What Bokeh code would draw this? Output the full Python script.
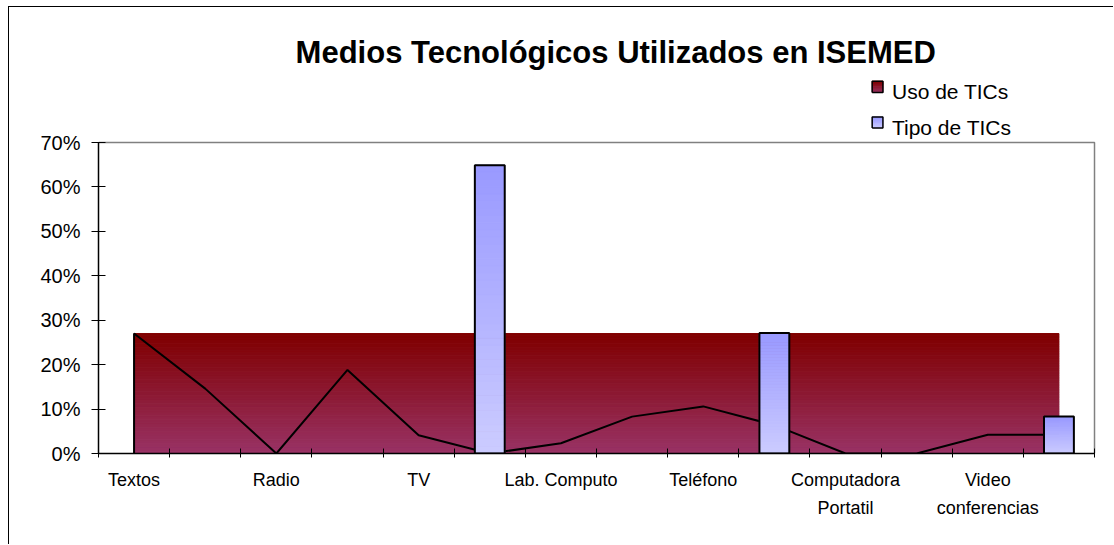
from bokeh.plotting import figure
from bokeh.models import Range1d, FixedTicker, NumeralTickFormatter, Label
from bokeh.embed import file_html
from bokeh.resources import INLINE

# ---------------- data ----------------
title_text = "Medios Tecnológicos Utilizados en ISEMED"
series_names = ["Uso de TICs", "Tipo de TICs"]
category_index = list(range(14))
tick_positions = [0, 2, 4, 6, 8, 10, 12]
tick_labels = ["Textos", "Radio", "TV", "Lab. Computo", "Teléfono",
               "Computadora\nPortatil", "Video\nconferencias"]
uso_tics = [0.270, 0.146, 0.0, 0.188, 0.041, 0.0, 0.023,
            0.083, 0.106, 0.064, 0.0, 0.0, 0.042, 0.042]
tipo_tics = [0.0, 0.0, 0.0, 0.0, 0.0, 0.649, 0.0,
             0.0, 0.0, 0.271, 0.0, 0.0, 0.0, 0.083]
y_ticks = [0.0, 0.1, 0.2, 0.3, 0.4, 0.5, 0.6, 0.7]

FONT = "Liberation Sans"
Y_MAX_AXIS = 0.7
X_MIN_AXIS, X_MAX_AXIS = -0.5, 13.5


def hex2rgb(h):
    h = h.lstrip("#")
    return tuple(int(h[i:i + 2], 16) for i in (0, 2, 4))


def lerp(c1, c2, t):
    a, b = hex2rgb(c1), hex2rgb(c2)
    return "#%02x%02x%02x" % tuple(int(round(a[k] + (b[k] - a[k]) * t)) for k in range(3))


def gradient_quads(p, left, right, bottom, top, c_bottom, c_top, n):
    ls, rs, bs, ts, cs = [], [], [], [], []
    for i in range(n):
        t = (i + 0.5) / n
        ls.append(left)
        rs.append(right)
        bs.append(bottom + (top - bottom) * i / n)
        ts.append(bottom + (top - bottom) * (i + 1) / n)
        cs.append(lerp(c_bottom, c_top, t))
    p.quad(left=ls, right=rs, bottom=bs, top=ts, fill_color=cs, line_color=cs, line_width=1)


W, H = 1105, 538
p = figure(width=W, height=H, output_backend="svg", toolbar_location=None,
           x_range=Range1d(X_MIN_AXIS, 13.781), y_range=Range1d(0, 1.00386),
           min_border_left=89, min_border_right=0, min_border_top=0,
           min_border_bottom=92)
p.styles = {"margin-left": "8px", "margin-top": "6px",
            "border-left": "1px solid black", "border-top": "1px solid black"}
p.xgrid.visible = False
p.ygrid.visible = False
p.outline_line_color = None
p.background_fill_color = "white"
p.border_fill_color = "white"

# ---- plot-area border (grey, top and right) ----
p.line([X_MIN_AXIS, X_MAX_AXIS, X_MAX_AXIS], [Y_MAX_AXIS, Y_MAX_AXIS, 0],
       line_color="#808080", line_width=1.5)

# ---- area (gradient rectangle, as rendered in the reference) ----
gradient_quads(p, category_index[0], category_index[-1], 0, max(uso_tics),
               "#993366", "#800000", 70)
p.line([category_index[0]] + category_index, [0.0] + uso_tics,
       line_color="black", line_width=2)

# ---- bars with gradient ----
bw = 0.42
bx, bv = [], []
for xi, v in zip(category_index, tipo_tics):
    if v <= 0:
        continue
    bx.append(xi)
    bv.append(v)
    gradient_quads(p, xi - bw / 2, xi + bw / 2, 0, v, "#ccccff", "#9999ff", 40)
p.vbar(x=bx, top=bv, width=bw, fill_color=None, line_color="black", line_width=2)

# ---- axes ----
xa = p.xaxis[0]
xa.bounds = (X_MIN_AXIS, X_MAX_AXIS)
xa.ticker = FixedTicker(ticks=tick_positions,
                        minor_ticks=[c - 0.5 for c in category_index] + [category_index[-1] + 0.5])
xa.major_label_overrides = {pos: lab for pos, lab in zip(tick_positions, tick_labels)}
xa.major_tick_in = 0
xa.major_tick_out = 0
xa.minor_tick_in = 5
xa.minor_tick_out = 4
xa.minor_tick_line_color = "black"
xa.axis_line_color = "black"
xa.axis_line_width = 1.5
xa.major_label_standoff = 12
xa.major_label_text_font = FONT
xa.major_label_text_font_size = "18px"
xa.major_label_text_color = "black"
xa.major_label_text_line_height = 1.4

ya = p.yaxis[0]
ya.bounds = (0, Y_MAX_AXIS)
ya.ticker = FixedTicker(ticks=y_ticks, minor_ticks=[])
ya.formatter = NumeralTickFormatter(format="0%")
ya.major_tick_in = 7
ya.major_tick_out = 7
ya.major_tick_line_color = "black"
ya.axis_line_color = "black"
ya.axis_line_width = 1.5
ya.major_label_standoff = 11
ya.major_label_text_font = FONT
ya.major_label_text_font_size = "20px"
ya.major_label_text_color = "black"

# ---- title ----
p.add_layout(Label(x=6.77, y=0.9026, text=title_text, text_font=FONT,
                   text_font_size="31px", text_font_style="bold",
                   text_align="center", text_baseline="alphabetic",
                   text_color="black"))

# ---- legend ----
leg_box = [(0.8125, 0.838), (0.7329, 0.7576)]
leg_cols = [("#993366", "#800000"), ("#ccccff", "#9999ff")]
leg_text_y = [0.8155, 0.7329]
bl, br = 10.375, 10.526
for name, (yb0, yb1), (cb, ct), yt in zip(series_names, leg_box, leg_cols, leg_text_y):
    gradient_quads(p, bl, br, yb0, yb1, cb, ct, 8)
    p.line([bl, br, br, bl, bl], [yb0, yb0, yb1, yb1, yb0], line_color="black", line_width=1.5)
    p.add_layout(Label(x=10.653, y=yt, text=name, text_font=FONT,
                       text_font_size="21px", text_align="left",
                       text_baseline="alphabetic", text_color="black"))

open("out.html", "w").write(file_html(p, INLINE))
